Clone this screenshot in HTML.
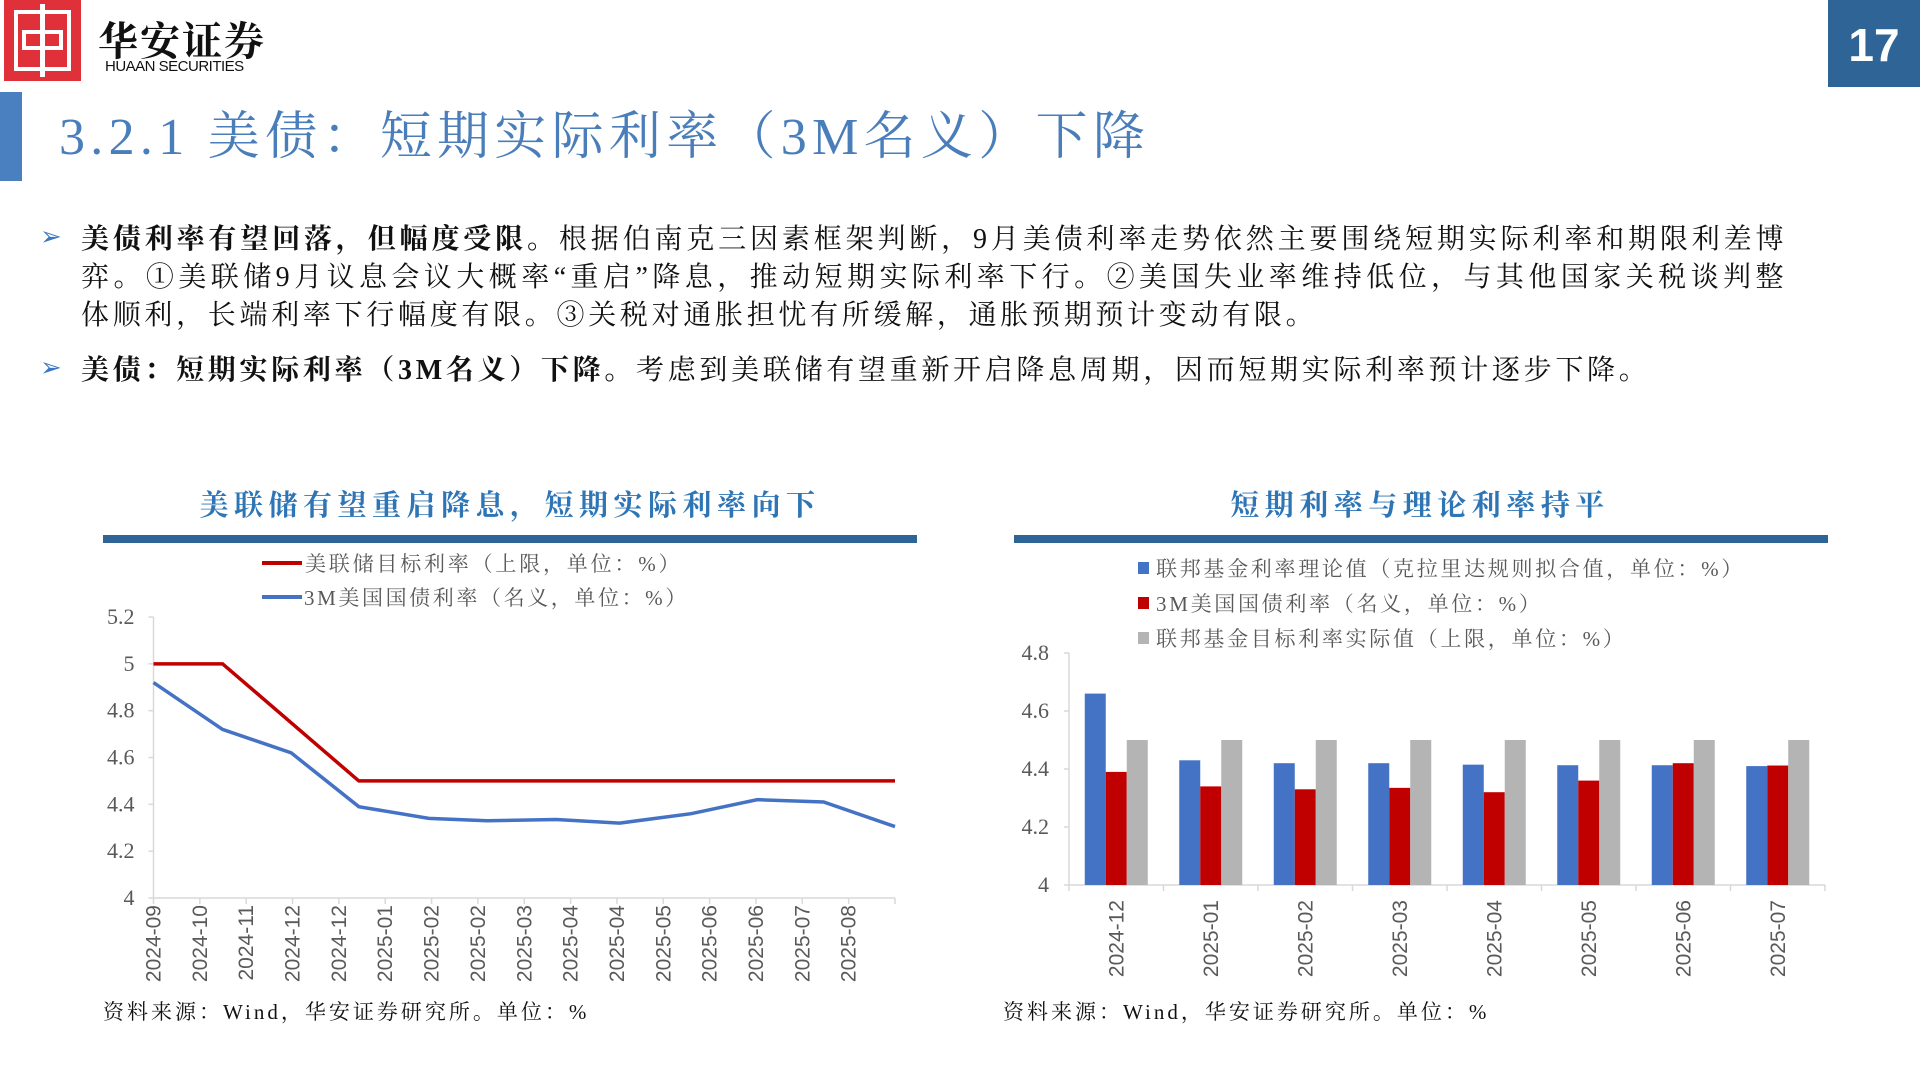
<!DOCTYPE html>
<html><head><meta charset="utf-8">
<style>
body{margin:0;width:1920px;height:1080px;position:relative;background:#fff;overflow:hidden;font-family:"Liberation Serif","Noto Serif CJK SC",serif;}
.abs{position:absolute;}
.para{position:absolute;left:81px;width:1704px;font-size:28px;color:#111;line-height:38px;letter-spacing:3.7px;white-space:nowrap;}
.j{text-align:justify;text-align-last:justify;letter-spacing:1.5px;}
.arrow{position:absolute;left:40px;color:#3a78c3;font-size:26px;font-family:"DejaVu Sans",sans-serif;}
</style></head><body>
<div class="abs" style="left:4px;top:0;width:77px;height:81px;background:#e0303a;">
<div style="position:absolute;left:10px;top:10px;width:57px;height:61px;border:4px solid #fff;box-sizing:border-box;"></div>
<div style="position:absolute;left:36px;top:4px;width:5px;height:73px;background:#fff;"></div>
<div style="position:absolute;left:18px;top:30px;width:41px;height:20px;border:4px solid #fff;box-sizing:border-box;"></div>
</div>
<div class="abs" style="left:98px;top:10px;font-size:40px;font-weight:bold;color:#111;letter-spacing:2px;">华安证券</div>
<div class="abs" style="left:105px;top:58px;font-size:15px;color:#111;font-family:'Liberation Sans',sans-serif;letter-spacing:-0.5px;">HUAAN SECURITIES</div>
<div class="abs" style="left:1828px;top:0;width:92px;height:87px;background:#2f6496;color:#fff;font:bold 46px 'Liberation Sans',sans-serif;text-align:center;line-height:90px;">17</div>
<div class="abs" style="left:0;top:92px;width:22px;height:89px;background:#4a7fc0;"></div>
<div class="abs" style="left:59px;top:108px;font-size:52px;color:#4a7ebb;line-height:60px;letter-spacing:5.3px;">3.2.1 美债：短期实际利率（3M名义）下降</div>

<div class="arrow" style="top:222px;">➢</div>
<div class="para j" style="top:221px;"><b>美债利率有望回落，但幅度受限。</b>根据伯南克三因素框架判断，9月美债利率走势依然主要围绕短期实际利率和期限利差博</div>
<div class="para j" style="top:259px;">弈。①美联储9月议息会议大概率“重启”降息，推动短期实际利率下行。②美国失业率维持低位，与其他国家关税谈判整</div>
<div class="para" style="top:297px;">体顺利，长端利率下行幅度有限。③关税对通胀担忧有所缓解，通胀预期预计变动有限。</div>
<div class="arrow" style="top:353px;">➢</div>
<div class="para" style="top:352px;"><b>美债：短期实际利率（3M名义）下降。</b>考虑到美联储有望重新开启降息周期，因而短期实际利率预计逐步下降。</div>

<svg id="charts" width="1920" height="1080" style="position:absolute;left:0;top:0;"></svg>

<script>
// ---- Left chart data ----
const lineDateLabels = ["2024-09","2024-10","2024-11","2024-12","2024-12","2025-01","2025-02","2025-02","2025-03","2025-04","2025-04","2025-05","2025-06","2025-06","2025-07","2025-08"];
const lineYTicks = [4,4.2,4.4,4.6,4.8,5,5.2];
const redPos = [0,1.49,4.43,16];
const redVals = [5.0,5.0,4.5,4.5];
const bluePos = [0,1.49,2.97,4.43,5.94,7.2,8.69,10.06,11.6,13.03,14.46,16];
const blueVals = [4.92,4.72,4.62,4.39,4.34,4.33,4.335,4.32,4.36,4.42,4.41,4.305];
// ---- Right chart data ----
const barCats = ["2024-12","2025-01","2025-02","2025-03","2025-04","2025-05","2025-06","2025-07"];
const barYTicks = [4,4.2,4.4,4.6,4.8];
const taylorVals = [4.66,4.43,4.42,4.42,4.415,4.413,4.413,4.41];
const tbillVals = [4.39,4.34,4.33,4.335,4.32,4.36,4.42,4.412];
const targetVals = [4.5,4.5,4.5,4.5,4.5,4.5,4.5,4.5];

const svg=document.getElementById('charts');
const NS='http://www.w3.org/2000/svg';
function mk(tag,attrs,parent){const e=document.createElementNS(NS,tag);for(const k in attrs)e.setAttribute(k,attrs[k]);(parent||svg).appendChild(e);return e;}
function txt(s,attrs){const e=mk('text',attrs);e.textContent=s;return e;}
const SERIF='"Liberation Serif","Noto Serif CJK SC",serif';

// ---- Left chart ----
let e;
e=txt('美联储有望重启降息，短期实际利率向下',{x:510,y:515,'text-anchor':'middle','font-size':29,'font-weight':'bold',fill:'#2e75b6','font-family':SERIF,'letter-spacing':5.5});


e=mk('rect',{x:103,y:535,width:814,height:8,fill:'#2f6496'});


const L={x0:153.5,x1:895,y0:898,y1:617,min:4,max:5.2,n:16};
const lx=p=>L.x0+(L.x1-L.x0)*p/L.n;
const ly=v=>L.y0-(v-L.min)/(L.max-L.min)*(L.y0-L.y1);
mk('line',{x1:L.x0,y1:L.y1,x2:L.x0,y2:L.y0,stroke:'#d9d9d9','stroke-width':1.5});
mk('line',{x1:L.x0,y1:L.y0,x2:L.x1,y2:L.y0,stroke:'#d9d9d9','stroke-width':1.5});
lineYTicks.forEach(t=>{
  e=txt(String(t),{x:L.x0-19,y:ly(t)+7,'text-anchor':'end','font-size':22,fill:'#595959','font-family':SERIF});
  
  
  mk('line',{x1:L.x0-5,y1:ly(t),x2:L.x0,y2:ly(t),stroke:'#d9d9d9','stroke-width':1.5});
});
for(let i=0;i<=L.n;i++) mk('line',{x1:lx(i),y1:L.y0,x2:lx(i),y2:L.y0+6,stroke:'#d9d9d9','stroke-width':1.5});
lineDateLabels.forEach((s,i)=>{
  const x=lx(i)+7,y=905;
  e=txt(s,{x:x,y:y,transform:`rotate(-90 ${x} ${y})`,'text-anchor':'end','font-size':21,fill:'#595959','font-family':'"Liberation Sans",sans-serif'});
  
  
});
e=mk('polyline',{points:redPos.map((p,i)=>lx(p)+','+ly(redVals[i])).join(' '),fill:'none',stroke:'#c00000','stroke-width':3.5});


e=mk('polyline',{points:bluePos.map((p,i)=>lx(p)+','+ly(blueVals[i])).join(' '),fill:'none',stroke:'#4472c4','stroke-width':3.5});


mk('line',{x1:262,y1:563,x2:302,y2:563,stroke:'#c00000','stroke-width':4});
e=txt('美联储目标利率（上限，单位：%）',{x:305,y:571,'font-size':21,fill:'#595959','font-family':SERIF,'letter-spacing':2.8});


mk('line',{x1:262,y1:597,x2:302,y2:597,stroke:'#4472c4','stroke-width':4});
e=txt('3M美国国债利率（名义，单位：%）',{x:304,y:605,'font-size':21,fill:'#595959','font-family':SERIF,'letter-spacing':2.6});


e=txt('资料来源：Wind，华安证券研究所。单位：%',{x:103,y:1019,'font-size':21,fill:'#111','font-family':SERIF,'letter-spacing':3});



// ---- Right chart ----
e=txt('短期利率与理论利率持平',{x:1420,y:515,'text-anchor':'middle','font-size':29,'font-weight':'bold',fill:'#2e75b6','font-family':SERIF,'letter-spacing':5.5});


e=mk('rect',{x:1014,y:535,width:814,height:8,fill:'#2f6496'});


const R={x0:1069,x1:1825,y0:885,y1:653,min:4,max:4.8};
const cw=(R.x1-R.x0)/barCats.length, bw=21;
const ry=v=>R.y0-(v-R.min)/(R.max-R.min)*(R.y0-R.y1);
mk('line',{x1:R.x0,y1:R.y1,x2:R.x0,y2:R.y0,stroke:'#d9d9d9','stroke-width':1.5});
mk('line',{x1:R.x0,y1:R.y0,x2:R.x1,y2:R.y0,stroke:'#d9d9d9','stroke-width':1.5});
barYTicks.forEach(t=>{
  e=txt(String(t),{x:R.x0-20,y:ry(t)+7,'text-anchor':'end','font-size':22,fill:'#595959','font-family':SERIF});
  
  
  mk('line',{x1:R.x0-5,y1:ry(t),x2:R.x0,y2:ry(t),stroke:'#d9d9d9','stroke-width':1.5});
});
for(let i=0;i<=barCats.length;i++) mk('line',{x1:R.x0+cw*i,y1:R.y0,x2:R.x0+cw*i,y2:R.y0+6,stroke:'#d9d9d9','stroke-width':1.5});
const series=[[taylorVals,'#4472c4','bar-taylor'],[tbillVals,'#c00000','bar-tbill'],[targetVals,'#b4b4b4','bar-target']];
barCats.forEach((c,i)=>{
  const gx=R.x0+cw*i+(cw-3*bw)/2;
  series.forEach((s,k)=>{
    const v=s[0][i];
    e=mk('rect',{x:gx+k*bw,y:ry(v),width:bw,height:R.y0-ry(v),fill:s[1]});
    
    
  });
  const x=R.x0+cw*i+cw/2+7,y=900;
  e=txt(c,{x:x,y:y,transform:`rotate(-90 ${x} ${y})`,'text-anchor':'end','font-size':21,fill:'#595959','font-family':'"Liberation Sans",sans-serif'});
  
  
});
const leg=[['联邦基金利率理论值（克拉里达规则拟合值，单位：%）','#4472c4',568],['3M美国国债利率（名义，单位：%）','#c00000',603],['联邦基金目标利率实际值（上限，单位：%）','#b4b4b4',638]];
leg.forEach(l=>{
  mk('rect',{x:1138,y:l[2]-6,width:11,height:12,fill:l[1]});
  e=txt(l[0],{x:1156,y:l[2]+8,'font-size':21,fill:'#595959','font-family':SERIF,'letter-spacing':2.7});
  
  
});
e=txt('资料来源：Wind，华安证券研究所。单位：%',{x:1003,y:1019,'font-size':21,fill:'#111','font-family':SERIF,'letter-spacing':3});


</script>
</body></html>
